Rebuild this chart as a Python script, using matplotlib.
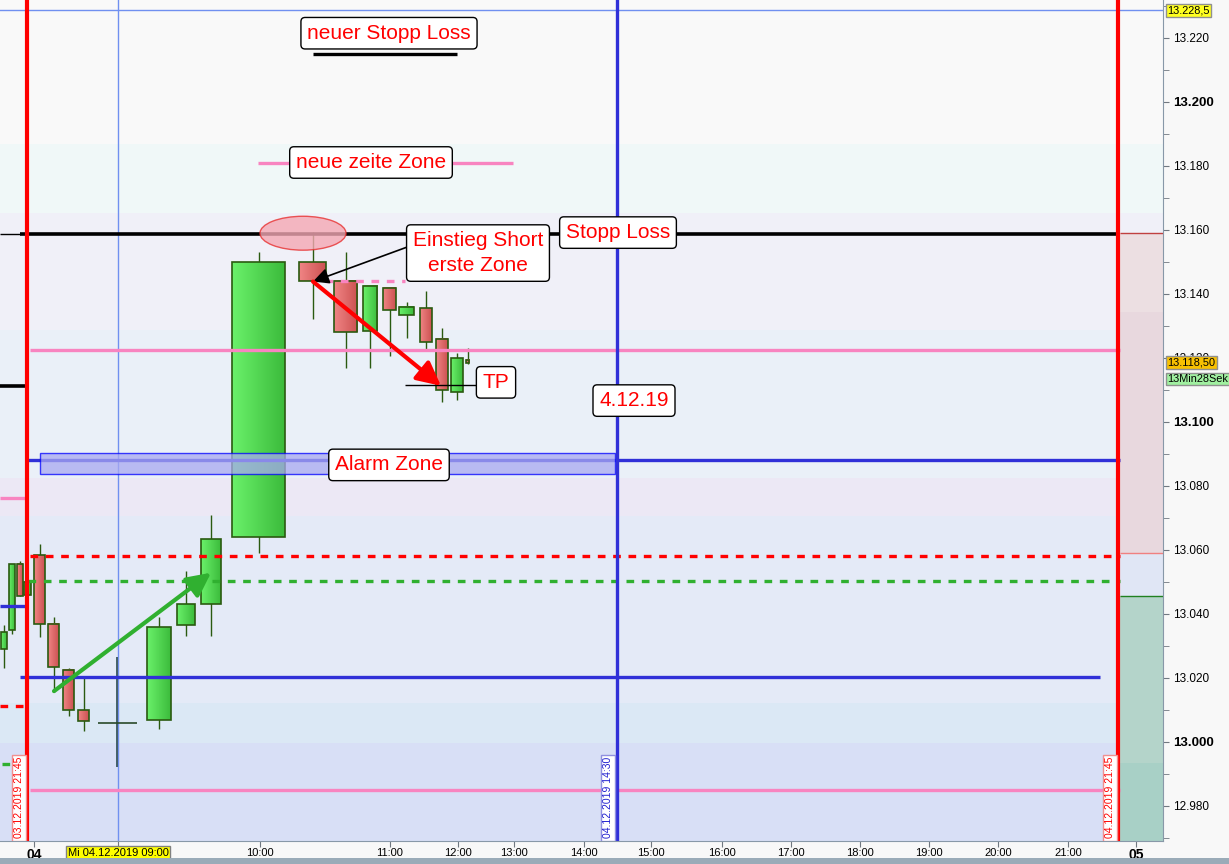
import matplotlib
matplotlib.use('Agg')
import numpy as np
import matplotlib.pyplot as plt
from matplotlib.colors import LinearSegmentedColormap
from matplotlib.patches import Ellipse, Rectangle
from matplotlib.transforms import blended_transform_factory

plt.rcParams['font.family'] = ['Liberation Sans', 'DejaVu Sans']

# --- candles (x = position on the compressed time axis) ---
candle_x = [4.3, 12.3, 20, 27.7, 39.8, 53.8, 68.8, 83.8, 159, 186.3, 211.3, 258.8,
            312.5, 345.5, 370, 389.5, 406.8, 426.3, 442, 457, 467.5]
candle_w = [6, 6, 5.4, 6.7, 11, 11, 11, 11, 23.4, 18, 20, 53,
            26.4, 23.6, 14.6, 12.4, 15, 12, 11.4, 11.4, 3.6]
opens = [13028.9, 13034.8, 13055.4, 13045.7, 13058.2, 13036.7, 13022.3, 13009.8, 13006.7, 13036.4, 13042.9, 13064.0,
         13149.8, 13144.0, 13128.2, 13141.7, 13133.2, 13135.4, 13125.8, 13109.2, 13119.2]
highs = [13036.5, 13055.4, 13056.4, 13049.8, 13061.8, 13038.9, 13023.0, 13020.0, 13038.9, 13053.3, 13071.0, 13153.0,
         13159.2, 13153.0, 13142.3, 13141.7, 13137.4, 13140.8, 13129.2, 13121.4, 13123.0]
lows = [13023.0, 13033.7, 13045.4, 13045.7, 13032.8, 13015.6, 13008.1, 13003.2, 13004.0, 13033.1, 13033.1, 13059.0,
        13132.2, 13116.7, 13116.7, 13120.6, 13126.2, 13122.3, 13106.2, 13106.7, 13118.0]
closes = [13034.2, 13055.4, 13045.4, 13049.8, 13036.7, 13023.2, 13009.8, 13006.4, 13035.7, 13042.9, 13063.2, 13149.8,
          13143.9, 13127.9, 13142.3, 13134.8, 13135.7, 13124.8, 13109.8, 13119.8, 13118.2]

# doji bar at 09:00
doji_x, doji_w = 117.3, 38.7
doji_price, doji_high, doji_low = 13005.8, 13026.5, 12992.2

# --- background price bands ---
band_low = [12960, 12999.6, 13012.1, 13070.5, 13082.4, 13128.7, 13165.2, 13186.8]
band_high = [12999.6, 13012.1, 13070.5, 13082.4, 13128.7, 13165.2, 13186.8, 13240]
band_colors = ['#d8dff6', '#dbe8f5', '#e4eaf7', '#ece8f5', '#eaf0f8', '#f0f0f8', '#f0f8f8', '#f9f9f9']

# right hand zone after the session end
zone_low = [12960, 12993.3, 13045.5, 13058.9, 13134.4]
zone_high = [12993.3, 13045.5, 13058.9, 13134.4, 13158.9]
zone_colors = ['#a8d0c6', '#b4d4ca', '#e0e6f5', '#e8d8de', '#ecdfe2']

# --- axis ticks ---
time_pos = [34, 118, 260, 390, 458, 514, 584, 651, 722, 791, 860, 929, 998, 1068, 1136]
time_labels = ['04', 'Mi 04.12.2019 09:00', '10:00', '11:00', '12:00', '13:00', '14:00', '15:00',
               '16:00', '17:00', '18:00', '19:00', '20:00', '21:00', '05']
price_ticks = [12980, 13000, 13020, 13040, 13060, 13080, 13100, 13120, 13140, 13160, 13180, 13200, 13220]

Y_MIN, Y_MAX = 12968.97, 13231.78
X_MAX = 1163

RED = '#ff0000'
BLUE = '#3030d8'
PINK = '#f884c0'
GREEN = '#30b030'
EDGE = '#2a5a10'

fig = plt.figure(figsize=(12.29, 8.64), dpi=100, facecolor='#f8f8f8')
ax = fig.add_axes([0, 23 / 864, X_MAX / 1229, 841 / 864])
ax.set_facecolor('#f9f9f9')

for lo, hi, c in zip(band_low, band_high, band_colors):
    ax.axhspan(lo, hi, color=c, lw=0, zorder=0)
for lo, hi, c in zip(zone_low, zone_high, zone_colors):
    ax.fill_between([1120, X_MAX], lo, hi, color=c, lw=0, zorder=1)
ax.hlines(13158.9, 1120, X_MAX, color='#c04040', lw=1, zorder=1.5)
ax.hlines(13058.9, 1120, X_MAX, color='#f08080', lw=1, zorder=1.5)
ax.hlines(13045.5, 1120, X_MAX, color='#208020', lw=1, zorder=1.5)

# crosshair lines
ax.axhline(13228.5, color='#7090f0', lw=1, zorder=2)
ax.axvline(118, color='#7090f0', lw=1, zorder=2)

# candles
green_cmap = LinearSegmentedColormap.from_list('g', ['#6af06a', '#3cbc3c'])
red_cmap = LinearSegmentedColormap.from_list('r', ['#f08484', '#cc5252'])
grad = np.linspace(0, 1, 32).reshape(1, -1)
for x, w, o, h, l, c in zip(candle_x, candle_w, opens, highs, lows, closes):
    lo, hi = min(o, c), max(o, c)
    ax.vlines(x, l, h, color=EDGE, lw=1, zorder=3)
    cmap = green_cmap if c >= o else red_cmap
    ax.imshow(grad, extent=(x - w / 2, x + w / 2, lo, hi), aspect='auto', cmap=cmap,
              interpolation='bilinear', zorder=3.1)
    ax.add_patch(Rectangle((x - w / 2, lo), w, hi - lo, fill=False, ec=EDGE, lw=1.2, zorder=3.2))
ax.vlines(doji_x, doji_low, doji_high, color='#2a4a50', lw=1.2, zorder=3)
ax.hlines(doji_price, doji_x - doji_w / 2, doji_x + doji_w / 2, color='#2a4a2a', lw=1.2, zorder=3)

# horizontal levels
ax.hlines(13158.8, 0, 20, color='black', lw=1, zorder=4)
ax.hlines(13158.8, 20, 1120, color='black', lw=2.6, zorder=4)
ax.hlines(13111.2, 0, 26, color='black', lw=2.6, zorder=4)
ax.hlines(13122.4, 30, 1120, color=PINK, lw=2.4, zorder=4)
ax.hlines(13076.2, 0, 26, color=PINK, lw=2.4, zorder=4)
ax.hlines(12984.9, 30, 1120, color=PINK, lw=2.4, zorder=4)
ax.hlines(13180.8, 258, 513, color=PINK, lw=2.4, zorder=4)
ax.plot([325, 405], [13144, 13144], color=PINK, lw=2.4, dashes=(2.3, 2.3), zorder=4)
ax.hlines(13088.0, 28, 1120, color=BLUE, lw=2.4, zorder=4)
ax.hlines(13020.2, 20, 1100, color=BLUE, lw=2.4, zorder=4)
ax.hlines(13042.4, 0, 26, color=BLUE, lw=2.4, zorder=4)
ax.plot([30, 1120], [13058.0, 13058.0], color=RED, lw=2.4, dashes=(2.3, 2.3), zorder=4)
ax.plot([0, 25], [13011.2, 13011.2], color=RED, lw=2.4, dashes=(2.3, 2.3), zorder=4)
ax.plot([28, 1120], [13050.2, 13050.2], color=GREEN, lw=2.4, dashes=(2.3, 2.3), zorder=4)
ax.plot([2, 22], [12993.0, 12993.0], color=GREEN, lw=2.4, dashes=(2.3, 2.3), zorder=4)
ax.hlines(13111.5, 405, 478, color='black', lw=1, zorder=4)
ax.hlines(13215.0, 313, 457, color='black', lw=2.4, zorder=4)

# alarm zone rectangle
ax.add_patch(Rectangle((40, 13083.7), 575, 6.5, fc='#a8a8f0', ec='#0000ff', lw=1, alpha=0.75, zorder=4.2))

# vertical session lines
ax.axvline(27, color=RED, lw=3, zorder=5)
ax.axvline(1118, color=RED, lw=3, zorder=5)
ax.axvline(617, color=BLUE, lw=2.4, zorder=5)

# ellipse on the high
ax.add_patch(Ellipse((303, 13158.9), 86, 10.6, fc='#f4a8b4', ec='#e83030', lw=1, alpha=0.8, zorder=4.5))

# arrows
ax.annotate('', xy=(313, 13143.8), xytext=(410, 13154.9),
            arrowprops=dict(arrowstyle='-|>,head_length=0.6,head_width=0.3', color='black', lw=1.2,
                            mutation_scale=16, shrinkA=0, shrinkB=0), zorder=6)
ax.annotate('', xy=(441, 13111.2), xytext=(313, 13143.8),
            arrowprops=dict(arrowstyle='-|>,head_length=0.6,head_width=0.3', color=RED, lw=3,
                            mutation_scale=24, shrinkA=0, shrinkB=0), zorder=6)
ax.annotate('', xy=(211, 13052.8), xytext=(54, 13015.8),
            arrowprops=dict(arrowstyle='-|>,head_length=0.6,head_width=0.3', color='#30b030', lw=3,
                            mutation_scale=24, shrinkA=0, shrinkB=0), zorder=6)

# text notes
box = dict(boxstyle='round,pad=0.3,rounding_size=0.2', fc='white', ec='black', lw=1)
notes = [
    (389, 13221.4, 'neuer Stopp Loss'),
    (371, 13181.0, 'neue zeite Zone'),
    (618, 13159.1, 'Stopp Loss'),
    (478, 13152.7, 'Einstieg Short\nerste Zone'),
    (496, 13112.3, 'TP'),
    (634, 13106.6, '4.12.19'),
    (389, 13086.5, 'Alarm Zone'),
]
for x, y, s in notes:
    ax.text(x, y, s, color=RED, fontsize=15, ha='center', va='center', multialignment='center',
            linespacing=1.4, bbox=box, zorder=7)

# vertical date labels
dates = [(19, '03.12.2019 21:45', RED, '#f09090'),
         (608, '04.12.2019 14:30', '#2020d0', '#9090e0'),
         (1110, '04.12.2019 21:45', RED, '#f09090')]
for x, s, c, ec in dates:
    ax.text(x, Y_MIN + 0.8, s, rotation=90, color=c, fontsize=7.5, ha='center', va='bottom',
            bbox=dict(boxstyle='square,pad=0.2', fc='white', ec=ec, lw=1), zorder=7, clip_on=True)

ax.set_xlim(0, X_MAX)
ax.set_ylim(Y_MIN, Y_MAX)

# price axis on the right
ax.yaxis.tick_right()
ax.set_yticks(price_ticks)
ax.set_yticklabels([f'{v:,.0f}'.replace(',', '.') for v in price_ticks])
for lab, v in zip(ax.get_yticklabels(), price_ticks):
    lab.set_fontsize(8.5)
    if v % 100 == 0:
        lab.set_fontweight('bold')
        lab.set_fontsize(9.5)
ax.set_yticks(np.arange(12970, 13231, 10), minor=True)
ax.tick_params(axis='y', which='both', length=4, color='#707880', pad=3)

# time axis
ax.set_xticks(time_pos)
ax.set_xticklabels(time_labels)
ax.tick_params(axis='x', length=4, color='#707880', pad=1, labelsize=8)
for lab, s in zip(ax.get_xticklabels(), time_labels):
    if s in ('04', '05'):
        lab.set_fontweight('bold')
        lab.set_fontsize(10)
    if s.startswith('Mi'):
        lab.set_bbox(dict(boxstyle='square,pad=0.15', fc='#ffff00', ec='#808080', lw=1))

for side in ('top', 'left'):
    ax.spines[side].set_visible(False)
for side in ('bottom', 'right'):
    ax.spines[side].set_color('#8898a8')

# price tags
tr = blended_transform_factory(ax.transAxes, ax.transData)
tags = [(13228.5, '13.228,5', '#ffff20'), (13118.5, '13.118,50', '#f8c000'), (13113.4, '13Min28Sek', '#a0f0a0')]
for y, s, c in tags:
    ax.text(1.004, y, s, transform=tr, fontsize=7.8, ha='left', va='center', clip_on=False,
            bbox=dict(boxstyle='square,pad=0.12', fc=c, ec='#909090', lw=1), zorder=8)

fig.patches.append(Rectangle((0, 0), 1, 6 / 864, transform=fig.transFigure, fc='#9aabb8', ec='none'))

fig.savefig('out.png', dpi=100, facecolor=fig.get_facecolor())
